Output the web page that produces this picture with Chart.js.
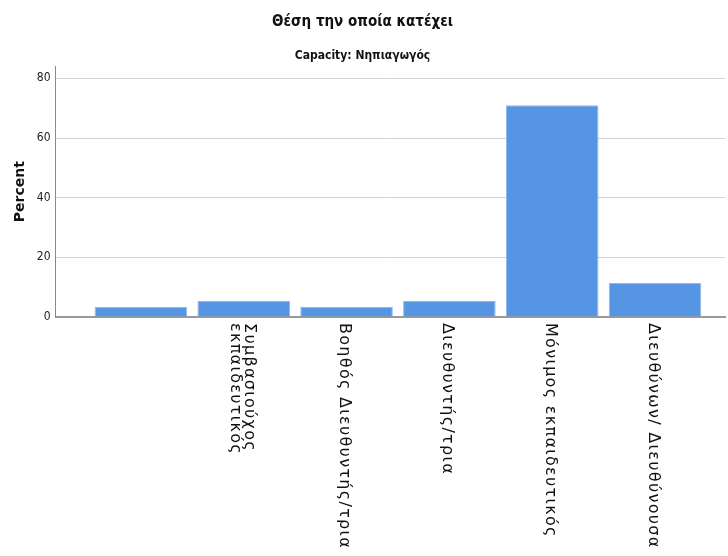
<!DOCTYPE html>
<html lang="el">
<head>
<meta charset="UTF-8">
<title>Θέση την οποία κατέχει</title>
<script src="https://cdn.jsdelivr.net/npm/chart.js"></script>
<style>
    html, body { margin: 0; padding: 0; background: #fff; }
    #wrap { width: 728px; height: 556px; }
</style>
</head>
<body>
<div id="wrap"><canvas id="chart"></canvas></div>
<script>
    // categories (first one has no label in the original)
    const categories = [
        '',
        'Συμβασιούχος\nεκπαιδευτικός',
        'Βοηθός Διευθυντής/τρια',
        'Διευθυντής/τρια',
        'Μόνιμος εκπαιδευτικός',
        'Διευθύνων/ Διευθύνουσα'
    ];
    const percents = [3.4, 5.4, 3.4, 5.4, 71.0, 11.4];
    const yTicks = [0, 20, 40, 60, 80];

    const narrow = "'DejaVu Sans Condensed', sans-serif";

    // x labels run top-to-bottom, so draw them ourselves
    const xLabels = {
        id: 'xLabels',
        afterDraw(chart) {
            const ctx = chart.ctx;
            const xs = chart.scales.x;
            const top = chart.chartArea.bottom + 6;
            const lh = 14;
            ctx.save();
            ctx.font = '16px "DejaVu Sans", sans-serif';
            ctx.letterSpacing = '1.3px';
            ctx.fillStyle = '#111';
            ctx.textAlign = 'left';
            ctx.textBaseline = 'middle';
            categories.forEach((label, i) => {
                const lines = label.split('\n');
                const x = xs.getPixelForValue(i) - 2;
                ctx.save();
                ctx.translate(x, top);
                ctx.rotate(Math.PI / 2);
                lines.forEach((ln, k) => {
                    ctx.fillText(ln, 0, (k - (lines.length - 1) / 2) * lh);
                });
                ctx.restore();
            });
            ctx.restore();
        }
    };

    new Chart(document.getElementById('chart'), {
        type: 'bar',
        data: {
            datasets: [{
                data: percents.map((v, i) => ({ x: i, y: v })),
                backgroundColor: '#5595e4',
                borderColor: '#8fb8ee',
                borderWidth: { top: 1, left: 1, right: 1, bottom: 0 },
                barPercentage: 0.9,
                categoryPercentage: 1
            }]
        },
        options: {
            responsive: true,
            maintainAspectRatio: false,
            animation: false,
            layout: { padding: { left: 0, right: 3, top: 0, bottom: 0 } },
            plugins: {
                legend: { display: false },
                tooltip: { enabled: false },
                title: {
                    display: true,
                    text: 'Θέση την οποία κατέχει',
                    color: '#111',
                    font: { family: narrow, size: 15, weight: 'bold' },
                    padding: { top: 13, bottom: 0 }
                },
                subtitle: {
                    display: true,
                    text: 'Capacity: Νηπιαγωγός',
                    color: '#111',
                    font: { family: narrow, size: 12, weight: 'bold' },
                    padding: { top: 18, bottom: 3 }
                }
            },
            scales: {
                x: {
                    type: 'linear',
                    offset: false,
                    min: -0.83,
                    max: 5.68,
                    afterBuildTicks(scale) {
                        scale.ticks = categories.map((c, i) => ({ value: i }));
                    },
                    grid: { display: false },
                    ticks: { display: false },
                    border: { color: '#9a9a9a', width: 2 },
                    afterFit(scale) { scale.height = 239; }
                },
                y: {
                    min: 0,
                    max: 84,
                    afterBuildTicks(scale) {
                        scale.ticks = yTicks.map(v => ({ value: v }));
                    },
                    grid: { color: '#d2d2d2', drawTicks: false },
                    border: { color: '#8a8a8a' },
                    ticks: {
                        padding: 5,
                        color: '#222',
                        font: { family: narrow, size: 12 }
                    },
                    title: {
                        display: true,
                        text: 'Percent',
                        color: '#111',
                        font: { family: '"DejaVu Sans", sans-serif', size: 14, weight: 'bold' },
                        padding: { top: 11.6, bottom: 0 }
                    },
                    afterFit(scale) { scale.width = 55.5; }
                }
            }
        },
        plugins: [xLabels]
    });
</script>
</body>
</html>
